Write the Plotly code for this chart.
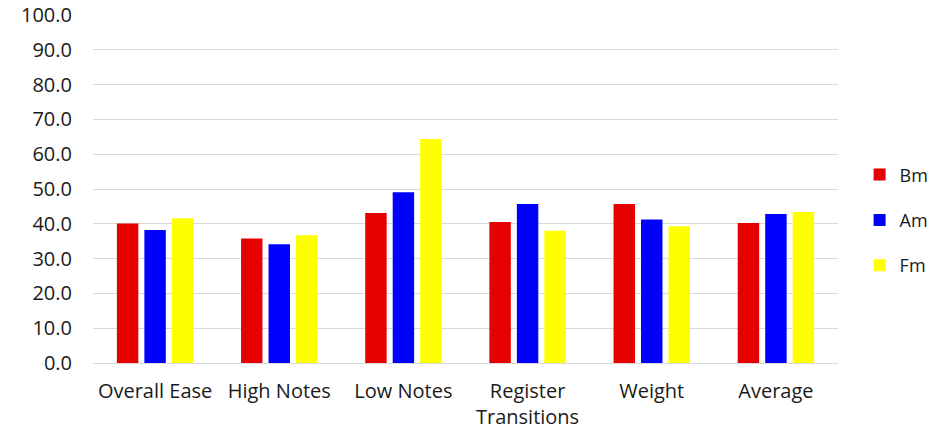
import plotly.graph_objects as go

categories = ["Overall Ease", "High Notes", "Low Notes", "Register<br>Transitions", "Weight", "Average"]
bm = [40.1, 35.8, 43.1, 40.5, 45.7, 40.2]
am = [38.2, 34.1, 49.1, 45.7, 41.2, 42.8]
fm = [41.6, 36.7, 64.4, 38.0, 39.3, 43.4]

series = [("Bm", bm, "#e60000"), ("Am", am, "#0000ff"), ("Fm", fm, "#ffff00")]

fig = go.Figure()
for name, vals, color in series:
    fig.add_trace(go.Bar(
        name=name, x=categories, y=vals,
        marker=dict(color=color, line=dict(width=0)),
        legendgroup=name,
    ))

font_family = "Open Sans, Carlito, Calibri, sans-serif"
fig.update_layout(
    width=933, height=432,
    margin=dict(l=93, r=95, t=15, b=69, autoexpand=False),
    paper_bgcolor="white", plot_bgcolor="white",
    barmode="group", bargap=0.336, bargroupgap=0.22,
    font=dict(family=font_family, size=20, color="#1a1a1a"),
    legend=dict(
        x=1.029, xanchor="left", y=0.41, yanchor="middle",
        traceorder="grouped", tracegroupgap=19,
        font=dict(size=18), itemwidth=30,
    ),
    showlegend=True,
)
fig.update_yaxes(
    range=[0, 100], dtick=10, tickformat=".1f",
    showgrid=True, gridcolor="#d9d9d9", gridwidth=1.3,
    zeroline=True, zerolinecolor="#d9d9d9", zerolinewidth=1.3,
    ticks="", ticklabelstandoff=20, automargin=False,
)
fig.update_xaxes(showgrid=False, showline=False, ticks="", tickangle=0,
                 ticklabelstandoff=14, automargin=False)

fig.write_html("out.html")
